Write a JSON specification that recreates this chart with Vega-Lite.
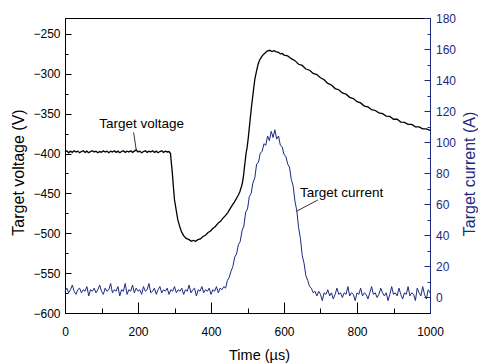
{
  "$schema": "https://vega.github.io/schema/vega-lite/v6.json",
  "width": 365,
  "height": 295,
  "autosize": "none",
  "padding": {"left": 65, "top": 18, "right": 48, "bottom": 50},
  "config": {
    "font": "Liberation Sans",
    "view": {"stroke": "black", "strokeWidth": 1},
    "axis": {"grid": false, "labelFlush": false, "labelOverlap": false, "labelFontSize": 12, "labelFont": "Liberation Sans", "titleFont": "Liberation Sans", "titleFontWeight": "normal", "domainColor": "black", "tickColor": "black", "labelColor": "black", "titleColor": "black", "domainWidth": 1, "tickWidth": 1}
  },
  "datasets": {
    "voltage": [
      {"t":0,"v":-398},{"t":5,"v":-396.5},{"t":10,"v":-399},{"t":15,"v":-397},{"t":20,"v":-398.5},{"t":25,"v":-396.5},{"t":30,"v":-398},{"t":35,"v":-397},{"t":40,"v":-399},{"t":45,"v":-397.5},{"t":50,"v":-396.5},{"t":55,"v":-398.5},{"t":60,"v":-397},{"t":65,"v":-399},{"t":70,"v":-397.5},{"t":75,"v":-396.5},{"t":80,"v":-398},{"t":85,"v":-397},{"t":90,"v":-399},{"t":95,"v":-397.5},{"t":100,"v":-398.5},{"t":105,"v":-396.5},{"t":110,"v":-398},{"t":115,"v":-397},{"t":120,"v":-399},{"t":125,"v":-397},{"t":130,"v":-398},{"t":135,"v":-396.5},{"t":140,"v":-398.5},{"t":145,"v":-397},{"t":150,"v":-399},{"t":155,"v":-397.5},{"t":160,"v":-396.5},{"t":165,"v":-398.5},{"t":170,"v":-397},{"t":175,"v":-398},{"t":180,"v":-396.5},{"t":185,"v":-398.5},{"t":190,"v":-397},{"t":195,"v":-395.5},{"t":200,"v":-398},{"t":205,"v":-397},{"t":210,"v":-399},{"t":215,"v":-397.5},{"t":220,"v":-396.5},{"t":225,"v":-398.5},{"t":230,"v":-397},{"t":235,"v":-398},{"t":240,"v":-396.5},{"t":245,"v":-398.5},{"t":250,"v":-397},{"t":255,"v":-399},{"t":260,"v":-397.5},{"t":265,"v":-396.5},{"t":270,"v":-398.5},{"t":275,"v":-397},{"t":280,"v":-398},{"t":285,"v":-397.5},
      {"t":289,"v":-400},{"t":291,"v":-410},{"t":294,"v":-424},{"t":297,"v":-442},{"t":300,"v":-458},{"t":305,"v":-472},{"t":309,"v":-483},{"t":314,"v":-491},{"t":319,"v":-498},{"t":325,"v":-503},{"t":332,"v":-506.5},{"t":340,"v":-508},{"t":346,"v":-510},{"t":351,"v":-509},{"t":358,"v":-510},{"t":364,"v":-508},{"t":371,"v":-507},{"t":378,"v":-504},{"t":385,"v":-502.5},{"t":392,"v":-499},{"t":398,"v":-497.5},{"t":405,"v":-494},{"t":412,"v":-491.5},{"t":420,"v":-487},{"t":426,"v":-485},{"t":433,"v":-481},{"t":440,"v":-477.5},{"t":446,"v":-474},{"t":452,"v":-469.5},{"t":458,"v":-465},{"t":464,"v":-461},{"t":470,"v":-456},{"t":475,"v":-452},{"t":479,"v":-448},{"t":483,"v":-442},{"t":486,"v":-437},{"t":489,"v":-428},{"t":492,"v":-416},{"t":496,"v":-400},{"t":499,"v":-392},{"t":502,"v":-381},{"t":506,"v":-363},{"t":511,"v":-341},{"t":516,"v":-322},{"t":520,"v":-307},{"t":525,"v":-296},{"t":529,"v":-288},{"t":533,"v":-283},{"t":538,"v":-279},{"t":543,"v":-276},{"t":548,"v":-274},{"t":554,"v":-271.5},{"t":561,"v":-270.5},{"t":567,"v":-272},{"t":573,"v":-271},{"t":579,"v":-272.5},{"t":585,"v":-273},{"t":590,"v":-275},{"t":595,"v":-274.5},{"t":600,"v":-276.5},
      {"t":610,"v":-277.5},{"t":620,"v":-281},{"t":630,"v":-283.5},{"t":640,"v":-288},{"t":650,"v":-289.5},{"t":660,"v":-294},{"t":670,"v":-295.5},{"t":680,"v":-299.5},{"t":690,"v":-301},{"t":700,"v":-305},{"t":710,"v":-307.5},{"t":720,"v":-312},{"t":730,"v":-314},{"t":740,"v":-318.5},{"t":750,"v":-320},{"t":760,"v":-324},{"t":770,"v":-325.5},{"t":780,"v":-329.5},{"t":790,"v":-331},{"t":800,"v":-335},{"t":810,"v":-336.5},{"t":820,"v":-340.5},{"t":830,"v":-341.5},{"t":840,"v":-345},{"t":850,"v":-346},{"t":860,"v":-349},{"t":870,"v":-350},{"t":880,"v":-353},{"t":890,"v":-353.5},{"t":900,"v":-357},{"t":910,"v":-357},{"t":920,"v":-360.5},{"t":930,"v":-361},{"t":940,"v":-363.5},{"t":950,"v":-363.5},{"t":960,"v":-366.5},{"t":970,"v":-366.5},{"t":980,"v":-369},{"t":990,"v":-369},{"t":1000,"v":-371}
    ],
    "current": [
      {"t":0,"i":4},{"t":5,"i":6},{"t":10,"i":3},{"t":15,"i":5},{"t":20,"i":8},{"t":25,"i":4},{"t":30,"i":2},{"t":35,"i":5},{"t":40,"i":6},{"t":45,"i":3},{"t":50,"i":5},{"t":55,"i":4},{"t":60,"i":7},{"t":65,"i":1},{"t":70,"i":5},{"t":75,"i":4},{"t":80,"i":6},{"t":85,"i":3},{"t":90,"i":5},{"t":95,"i":8},{"t":100,"i":4},{"t":105,"i":2},{"t":110,"i":6},{"t":115,"i":4},{"t":120,"i":5},{"t":125,"i":9},{"t":130,"i":3},{"t":135,"i":5},{"t":140,"i":4},{"t":145,"i":7},{"t":150,"i":1},{"t":155,"i":5},{"t":160,"i":4},{"t":165,"i":9},{"t":170,"i":2},{"t":175,"i":5},{"t":180,"i":4},{"t":185,"i":8},{"t":190,"i":3},{"t":195,"i":6},{"t":200,"i":4},{"t":205,"i":5},{"t":210,"i":2},{"t":215,"i":7},{"t":220,"i":4},{"t":225,"i":5},{"t":230,"i":9},{"t":235,"i":3},{"t":240,"i":4},{"t":245,"i":6},{"t":250,"i":2},{"t":255,"i":5},{"t":260,"i":7},{"t":265,"i":3},{"t":270,"i":5},{"t":275,"i":4},{"t":280,"i":6},{"t":285,"i":2},{"t":290,"i":5},{"t":295,"i":4},{"t":300,"i":7},{"t":305,"i":3},{"t":310,"i":5},{"t":315,"i":4},{"t":320,"i":6},{"t":325,"i":2},{"t":330,"i":5},{"t":335,"i":4},{"t":340,"i":8},{"t":345,"i":3},{"t":350,"i":5},{"t":355,"i":6},{"t":360,"i":1},{"t":365,"i":5},{"t":370,"i":4},{"t":375,"i":7},{"t":380,"i":3},{"t":385,"i":5},{"t":390,"i":4},{"t":395,"i":6},{"t":400,"i":2},{"t":405,"i":5},{"t":410,"i":4},{"t":415,"i":7},{"t":420,"i":3},{"t":425,"i":6},{"t":430,"i":5},
      {"t":435,"i":7},{"t":440,"i":6},{"t":445,"i":11},{"t":450,"i":13},{"t":455,"i":17},{"t":460,"i":20},{"t":465,"i":26},{"t":470,"i":28},{"t":475,"i":34},{"t":480,"i":36},{"t":485,"i":43},{"t":490,"i":46},{"t":495,"i":55},{"t":500,"i":57},{"t":505,"i":65},{"t":510,"i":67},{"t":515,"i":74},{"t":520,"i":77},{"t":525,"i":86},{"t":530,"i":87},{"t":535,"i":93},{"t":540,"i":94},{"t":545,"i":99},{"t":550,"i":98},{"t":555,"i":104},{"t":560,"i":101},{"t":565,"i":107},{"t":570,"i":103},{"t":575,"i":108},{"t":580,"i":102},{"t":585,"i":104},{"t":590,"i":98},{"t":595,"i":97},{"t":600,"i":92},{"t":605,"i":91},{"t":610,"i":86},{"t":615,"i":84},{"t":620,"i":76},{"t":625,"i":72},{"t":630,"i":62},{"t":635,"i":56},{"t":640,"i":45},{"t":645,"i":38},{"t":650,"i":27},{"t":655,"i":22},{"t":660,"i":14},{"t":665,"i":11},{"t":670,"i":7},{"t":675,"i":6},{"t":680,"i":3},{"t":685,"i":4},
      {"t":690,"i":1},{"t":695,"i":4},{"t":700,"i":2},{"t":705,"i":-2},{"t":710,"i":3},{"t":715,"i":2},{"t":720,"i":5},{"t":725,"i":1},{"t":730,"i":3},{"t":735,"i":-1},{"t":740,"i":2},{"t":745,"i":6},{"t":750,"i":2},{"t":755,"i":3},{"t":760,"i":0},{"t":765,"i":3},{"t":770,"i":2},{"t":775,"i":7},{"t":780,"i":1},{"t":785,"i":3},{"t":790,"i":2},{"t":795,"i":-2},{"t":800,"i":3},{"t":805,"i":2},{"t":810,"i":6},{"t":815,"i":1},{"t":820,"i":3},{"t":825,"i":2},{"t":830,"i":-1},{"t":835,"i":3},{"t":840,"i":7},{"t":845,"i":2},{"t":850,"i":3},{"t":855,"i":0},{"t":860,"i":2},{"t":865,"i":6},{"t":870,"i":3},{"t":875,"i":1},{"t":880,"i":3},{"t":885,"i":-2},{"t":890,"i":2},{"t":895,"i":7},{"t":900,"i":2},{"t":905,"i":3},{"t":910,"i":1},{"t":915,"i":6},{"t":920,"i":2},{"t":925,"i":-1},{"t":930,"i":3},{"t":935,"i":2},{"t":940,"i":7},{"t":945,"i":1},{"t":950,"i":3},{"t":955,"i":2},{"t":960,"i":-2},{"t":965,"i":6},{"t":970,"i":3},{"t":975,"i":1},{"t":980,"i":7},{"t":985,"i":2},{"t":990,"i":-1},{"t":995,"i":5},{"t":1000,"i":3}
    ]
  },
  "layer": [
    {
      "layer": [
        {
          "data": {"name": "voltage"},
          "mark": {"type": "line", "color": "black", "strokeWidth": 1.3},
          "encoding": {
            "x": {"field": "t", "type": "quantitative", "title": "Time (µs)",
              "scale": {"domain": [0, 1000], "nice": false, "zero": false},
              "axis": {"values": [0,100,200,300,400,500,600,700,800,900,1000], "format": "d",
                "labelExpr": "datum.value % 200 === 0 ? datum.label : ''", "labelOverlap": false,
                "tickSize": {"condition": {"test": "datum.value % 200 === 0", "value": -11}, "value": -5},
                "labelPadding": 24, "titleFontSize": 14.5, "titleX": 194, "titleY": 46, "titleBaseline": "alphabetic", "titleAlign": "center"}},
            "y": {"field": "v", "type": "quantitative", "title": "Target voltage (V)",
              "scale": {"domain": [-600, -230], "nice": false, "zero": false},
              "axis": {"orient": "left", "values": [-600,-575,-550,-525,-500,-475,-450,-425,-400,-375,-350,-325,-300,-275,-250],
                "labelExpr": "datum.value % 50 === 0 ? datum.label : ''", "labelOverlap": false,
                "tickSize": {"condition": {"test": "datum.value % 50 === 0", "value": -6}, "value": -3},
                "labelPadding": 11, "titleFontSize": 16, "titleAngle": -90, "titleX": -42, "titleY": 154, "titleBaseline": "alphabetic", "titleAlign": "center"}}
          }
        },
        {
          "data": {"values": [{"t": 210, "v": -368.2, "label": "Target voltage"}]},
          "mark": {"type": "text", "fontSize": 13.5, "align": "center", "baseline": "alphabetic", "color": "black"},
          "encoding": {
            "x": {"field": "t", "type": "quantitative", "title": "Time (µs)",
              "scale": {"domain": [0, 1000], "nice": false, "zero": false},
              "axis": {"values": [0,100,200,300,400,500,600,700,800,900,1000], "format": "d",
                "labelExpr": "datum.value % 200 === 0 ? datum.label : ''", "labelOverlap": false,
                "tickSize": {"condition": {"test": "datum.value % 200 === 0", "value": -11}, "value": -5},
                "labelPadding": 24, "titleFontSize": 14.5, "titleX": 194, "titleY": 46, "titleBaseline": "alphabetic", "titleAlign": "center"}},
            "y": {"field": "v", "type": "quantitative", "title": "Target voltage (V)",
              "scale": {"domain": [-600, -230], "nice": false, "zero": false},
              "axis": {"orient": "left", "values": [-600,-575,-550,-525,-500,-475,-450,-425,-400,-375,-350,-325,-300,-275,-250],
                "labelExpr": "datum.value % 50 === 0 ? datum.label : ''", "labelOverlap": false,
                "tickSize": {"condition": {"test": "datum.value % 50 === 0", "value": -6}, "value": -3},
                "labelPadding": 11, "titleFontSize": 16, "titleAngle": -90, "titleX": -42, "titleY": 154, "titleBaseline": "alphabetic", "titleAlign": "center"}},
            "text": {"field": "label"}
          }
        },
        {
          "data": {"values": [{"t": 188, "v": -373.5, "t2": 195, "v2": -395}]},
          "mark": {"type": "rule", "color": "black", "strokeWidth": 0.8},
          "encoding": {
            "x": {"field": "t", "type": "quantitative", "title": "Time (µs)",
              "scale": {"domain": [0, 1000], "nice": false, "zero": false},
              "axis": {"values": [0,100,200,300,400,500,600,700,800,900,1000], "format": "d",
                "labelExpr": "datum.value % 200 === 0 ? datum.label : ''", "labelOverlap": false,
                "tickSize": {"condition": {"test": "datum.value % 200 === 0", "value": -11}, "value": -5},
                "labelPadding": 24, "titleFontSize": 14.5, "titleX": 194, "titleY": 46, "titleBaseline": "alphabetic", "titleAlign": "center"}},
            "y": {"field": "v", "type": "quantitative", "title": "Target voltage (V)",
              "scale": {"domain": [-600, -230], "nice": false, "zero": false},
              "axis": {"orient": "left", "values": [-600,-575,-550,-525,-500,-475,-450,-425,-400,-375,-350,-325,-300,-275,-250],
                "labelExpr": "datum.value % 50 === 0 ? datum.label : ''", "labelOverlap": false,
                "tickSize": {"condition": {"test": "datum.value % 50 === 0", "value": -6}, "value": -3},
                "labelPadding": 11, "titleFontSize": 16, "titleAngle": -90, "titleX": -42, "titleY": 154, "titleBaseline": "alphabetic", "titleAlign": "center"}},
            "x2": {"field": "t2"},
            "y2": {"field": "v2"}
          }
        }
      ]
    },
    {
      "layer": [
        {
          "data": {"name": "current"},
          "mark": {"type": "line", "color": "#1b2a80", "strokeWidth": 1},
          "encoding": {
            "x": {"field": "t", "type": "quantitative", "title": "Time (µs)",
              "scale": {"domain": [0, 1000], "nice": false, "zero": false},
              "axis": {"values": [0,100,200,300,400,500,600,700,800,900,1000], "format": "d",
                "labelExpr": "datum.value % 200 === 0 ? datum.label : ''", "labelOverlap": false,
                "tickSize": {"condition": {"test": "datum.value % 200 === 0", "value": -11}, "value": -5},
                "labelPadding": 24, "titleFontSize": 14.5, "titleX": 194, "titleY": 46, "titleBaseline": "alphabetic", "titleAlign": "center"}},
            "y": {"field": "i", "type": "quantitative", "title": "Target current (A)",
              "scale": {"domain": [-10, 180], "nice": false, "zero": false},
              "axis": {"orient": "right", "values": [0,10,20,30,40,50,60,70,80,90,100,110,120,130,140,150,160,170,180],
                "labelExpr": "datum.value % 20 === 0 ? datum.label : ''", "labelOverlap": false,
                "tickSize": {"condition": {"test": "datum.value % 20 === 0", "value": -6}, "value": -3},
                "labelPadding": 11.5, "titleFontSize": 16, "titleAngle": -90, "titleX": 44.5, "titleY": 155.5, "titleBaseline": "alphabetic", "titleAlign": "center",
                "domainColor": "#1b2a80", "tickColor": "#1b2a80", "labelColor": "#1b2a80", "titleColor": "#1b2a80"}}
          }
        },
        {
          "data": {"values": [{"t": 758, "i": 64.7, "label": "Target current"}]},
          "mark": {"type": "text", "fontSize": 13.5, "align": "center", "baseline": "alphabetic", "color": "black"},
          "encoding": {
            "x": {"field": "t", "type": "quantitative", "title": "Time (µs)",
              "scale": {"domain": [0, 1000], "nice": false, "zero": false},
              "axis": {"values": [0,100,200,300,400,500,600,700,800,900,1000], "format": "d",
                "labelExpr": "datum.value % 200 === 0 ? datum.label : ''", "labelOverlap": false,
                "tickSize": {"condition": {"test": "datum.value % 200 === 0", "value": -11}, "value": -5},
                "labelPadding": 24, "titleFontSize": 14.5, "titleX": 194, "titleY": 46, "titleBaseline": "alphabetic", "titleAlign": "center"}},
            "y": {"field": "i", "type": "quantitative", "title": "Target current (A)",
              "scale": {"domain": [-10, 180], "nice": false, "zero": false},
              "axis": {"orient": "right", "values": [0,10,20,30,40,50,60,70,80,90,100,110,120,130,140,150,160,170,180],
                "labelExpr": "datum.value % 20 === 0 ? datum.label : ''", "labelOverlap": false,
                "tickSize": {"condition": {"test": "datum.value % 20 === 0", "value": -6}, "value": -3},
                "labelPadding": 11.5, "titleFontSize": 16, "titleAngle": -90, "titleX": 44.5, "titleY": 155.5, "titleBaseline": "alphabetic", "titleAlign": "center",
                "domainColor": "#1b2a80", "tickColor": "#1b2a80", "labelColor": "#1b2a80", "titleColor": "#1b2a80"}},
            "text": {"field": "label"}
          }
        },
        {
          "data": {"values": [{"t": 693, "i": 62.8, "t2": 634, "i2": 55.5}]},
          "mark": {"type": "rule", "color": "black", "strokeWidth": 0.8},
          "encoding": {
            "x": {"field": "t", "type": "quantitative", "title": "Time (µs)",
              "scale": {"domain": [0, 1000], "nice": false, "zero": false},
              "axis": {"values": [0,100,200,300,400,500,600,700,800,900,1000], "format": "d",
                "labelExpr": "datum.value % 200 === 0 ? datum.label : ''", "labelOverlap": false,
                "tickSize": {"condition": {"test": "datum.value % 200 === 0", "value": -11}, "value": -5},
                "labelPadding": 24, "titleFontSize": 14.5, "titleX": 194, "titleY": 46, "titleBaseline": "alphabetic", "titleAlign": "center"}},
            "y": {"field": "i", "type": "quantitative", "title": "Target current (A)",
              "scale": {"domain": [-10, 180], "nice": false, "zero": false},
              "axis": {"orient": "right", "values": [0,10,20,30,40,50,60,70,80,90,100,110,120,130,140,150,160,170,180],
                "labelExpr": "datum.value % 20 === 0 ? datum.label : ''", "labelOverlap": false,
                "tickSize": {"condition": {"test": "datum.value % 20 === 0", "value": -6}, "value": -3},
                "labelPadding": 11.5, "titleFontSize": 16, "titleAngle": -90, "titleX": 44.5, "titleY": 155.5, "titleBaseline": "alphabetic", "titleAlign": "center",
                "domainColor": "#1b2a80", "tickColor": "#1b2a80", "labelColor": "#1b2a80", "titleColor": "#1b2a80"}},
            "x2": {"field": "t2"},
            "y2": {"field": "i2"}
          }
        }
      ]
    }
  ],
  "resolve": {"scale": {"y": "independent"}}
}
